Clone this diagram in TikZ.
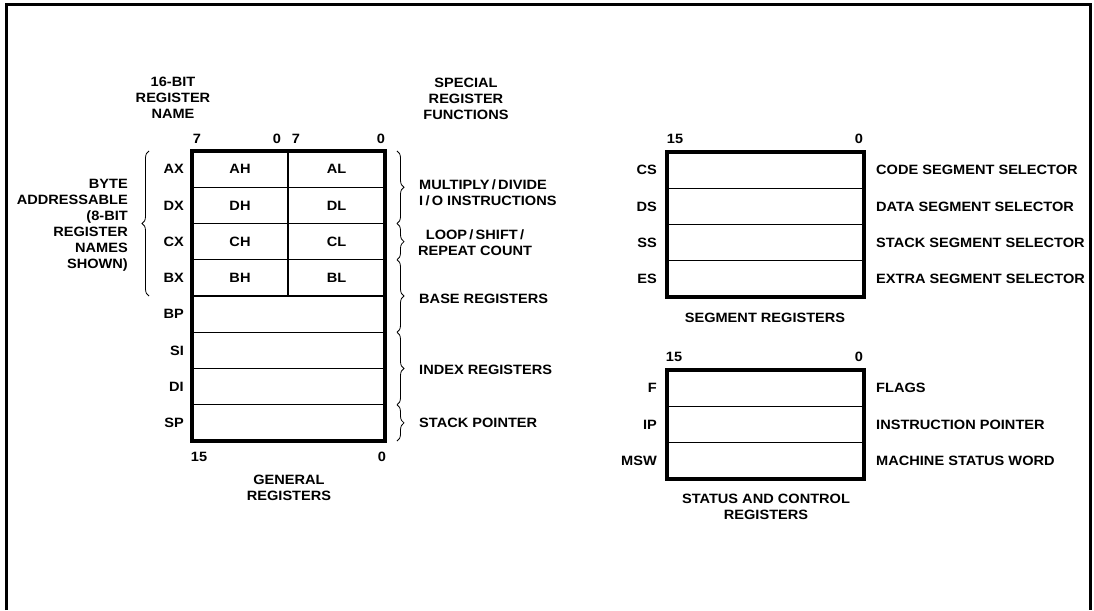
\documentclass[tikz,border=0pt]{standalone}
\usepackage{fontspec}
\setmainfont[FakeStretch=1.08]{Liberation Sans}
\usetikzlibrary{positioning,decorations.pathreplacing}

\begin{document}
\begin{tikzpicture}[x=1pt, y=-1pt,
    txt/.style={font=\fontsize{13.5}{16}\selectfont\bfseries, inner sep=0pt},
    cell/.style={txt, draw, line width=1.2pt, outer sep=0pt, minimum height=36.25pt},
    outline/.style={line width=4pt},
    frame/.style={line width=3pt},
    brc/.style={decorate, decoration={brace, amplitude=7pt}, line width=0.8pt}
]
    \useasboundingbox (0,0) rectangle (1094,610);
    \draw[frame] (6,610) -- (6,5) -- (1090,5) -- (1090,610);

    % general registers
    \node[cell, minimum width=96pt] at (240,169.1) (ah) {AH};
    \node[cell, minimum width=97pt] at (336.5,169.1) (al) {AL};
    \node[cell, minimum width=96pt] at (240,205.4) (dh) {DH};
    \node[cell, minimum width=97pt] at (336.5,205.4) (dl) {DL};
    \node[cell, minimum width=96pt] at (240,241.6) (ch) {CH};
    \node[cell, minimum width=97pt] at (336.5,241.6) (cl) {CL};
    \node[cell, minimum width=96pt] at (240,277.9) (bh) {BH};
    \node[cell, minimum width=97pt] at (336.5,277.9) (bl) {BL};
    \node[cell, minimum width=193pt] at (288.5,314.1) (rbp) {};
    \node[cell, minimum width=193pt] at (288.5,350.4) (rsi) {};
    \node[cell, minimum width=193pt] at (288.5,386.6) (rdi) {};
    \node[cell, minimum width=193pt] at (288.5,422.9) (rsp) {};
    \draw[outline] (ah.north west) rectangle (rsp.south east);

    \node[txt, left=8pt of ah] (ax) {AX};
    \node[txt, left=8pt of dh] (dx) {DX};
    \node[txt, left=8pt of ch] (cx) {CX};
    \node[txt, left=8pt of bh] (bx) {BX};
    \node[txt, left=8pt of rbp] (bp) {BP};
    \node[txt, left=8pt of rsi] (si) {SI};
    \node[txt, left=8pt of rdi] (di) {DI};
    \node[txt, left=8pt of rsp] (sp) {SP};

    \node[txt] at (197,139) (ghi) {7};
    \node[txt] at (277,139) (glo) {0};
    \node[txt] at (296,139) (lhi) {7};
    \node[txt] at (381,139) (llo) {0};
    \node[txt] at (199,457) (gtop) {15};
    \node[txt] at (382,457) (gbot) {0};

    \node[txt, align=center] at (173,98) (regname) {16-BIT\\REGISTER\\NAME};
    \node[txt, align=center] at (466,99) (regfunc) {SPECIAL\\REGISTER\\FUNCTIONS};
    \node[txt, align=center] at (289,488) (general) {GENERAL\\REGISTERS};
    \node[txt, align=right, anchor=east] at (128,225) (byte) {BYTE\\ADDRESSABLE\\(8-BIT\\REGISTER\\NAMES\\SHOWN)};

    \draw[brc] ([xshift=-43pt]bh.south west) -- ([xshift=-43pt]ah.north west);
    \draw[brc] ([xshift=12pt]al.north east) -- ([xshift=12pt]dl.south east);
    \draw[brc] ([xshift=12pt]cl.north east) -- ([xshift=12pt]cl.south east);
    \draw[brc] ([xshift=12pt]bl.north east) -- ([xshift=12pt]rbp.south east);
    \draw[brc] ([xshift=12pt]rsi.north east) -- ([xshift=12pt]rdi.south east);
    \draw[brc] ([xshift=12pt]rsp.north east) -- ([xshift=12pt]rsp.south east);

    \node[txt, align=left, anchor=west] at (419,193) (muldiv) {MULTIPLY\,/\,DIVIDE\\I\,/\,O INSTRUCTIONS};
    \node[txt, align=center] at (475,243) (loop) {LOOP\,/\,SHIFT\,/\\REPEAT COUNT};
    \node[txt, anchor=west] at (419,299) (base) {BASE REGISTERS};
    \node[txt, anchor=west] at (419,370) (index) {INDEX REGISTERS};
    \node[txt, anchor=west] at (419,423) (stack) {STACK POINTER};

    % segment registers
    \node[cell, minimum width=197pt] at (765.5,170.1) (rcs) {};
    \node[cell, minimum width=197pt] at (765.5,206.4) (rds) {};
    \node[cell, minimum width=197pt] at (765.5,242.6) (rss) {};
    \node[cell, minimum width=197pt] at (765.5,278.9) (res) {};
    \draw[outline] (rcs.north west) rectangle (res.south east);

    \node[txt, left=10pt of rcs] (cs) {CS};
    \node[txt, left=10pt of rds] (ds) {DS};
    \node[txt, left=10pt of rss] (ss) {SS};
    \node[txt, left=10pt of res] (es) {ES};
    \node[txt, right=12pt of rcs] (codesel) {CODE SEGMENT SELECTOR};
    \node[txt, right=12pt of rds] (datasel) {DATA SEGMENT SELECTOR};
    \node[txt, right=12pt of rss] (stacksel) {STACK SEGMENT SELECTOR};
    \node[txt, right=12pt of res] (extrasel) {EXTRA SEGMENT SELECTOR};

    \node[txt] at (675,139) (stop) {15};
    \node[txt] at (859,139) (sbot) {0};
    \node[txt] at (765,318) (segment) {SEGMENT REGISTERS};

    % status and control registers
    \node[cell, minimum width=197pt] at (765.5,388.1) (rf) {};
    \node[cell, minimum width=197pt] at (765.5,424.4) (rip) {};
    \node[cell, minimum width=197pt] at (765.5,460.6) (rmsw) {};
    \draw[outline] (rf.north west) rectangle (rmsw.south east);

    \node[txt, left=10pt of rf] (f) {F};
    \node[txt, left=10pt of rip] (ip) {IP};
    \node[txt, left=10pt of rmsw] (msw) {MSW};
    \node[txt, right=12pt of rf] (flags) {FLAGS};
    \node[txt, right=12pt of rip] (instr) {INSTRUCTION POINTER};
    \node[txt, right=12pt of rmsw] (machine) {MACHINE STATUS WORD};

    \node[txt] at (674,357) (ctop) {15};
    \node[txt] at (859,357) (cbot) {0};
    \node[txt, align=center] at (766,507) (status) {STATUS AND CONTROL\\REGISTERS};
\end{tikzpicture}
\end{document}
